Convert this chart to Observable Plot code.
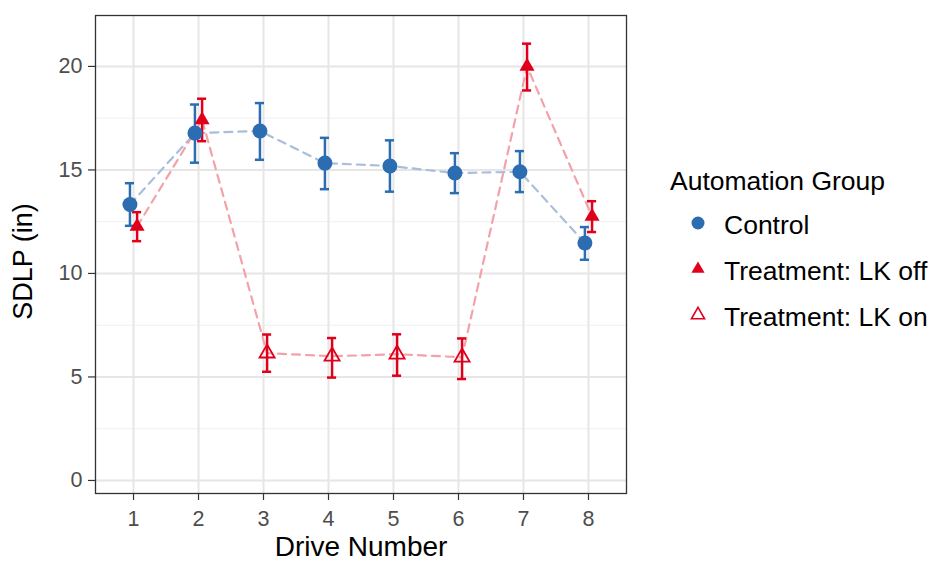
<!DOCTYPE html>
<html>
<head>
<meta charset="utf-8">
<script src="https://cdn.jsdelivr.net/npm/d3@7"></script>
<script src="https://cdn.jsdelivr.net/npm/@observablehq/plot@0.6"></script>
<style>
  body { margin: 0; background: #fff; }
  #wrap { position: relative; width: 931px; height: 563px; font-family: "Liberation Sans", Arial, sans-serif; }
  #wrap svg text { font-family: "Liberation Sans", Arial, sans-serif; }
  g[aria-label="x-axis tick label"] text, g[aria-label="y-axis tick label"] text { fill: #4d4d4d; }
  g[aria-label="x-axis tick"] path, g[aria-label="y-axis tick"] path { stroke: #333; stroke-width: 1.2px; }
  .leg { position: absolute; font-size: 26px; color: #000; line-height: 1; white-space: nowrap; transform: translateY(-50%); }
  .key { position: absolute; transform: translate(-50%, -50%); }
</style>
</head>
<body>
<div id="wrap"></div>
<script>
// ---- data ----
const drives = [1, 2, 3, 4, 5, 6, 7, 8];
const groups = ["Control", "Treatment: LK off", "Treatment: LK on"];
const controlMean = [13.33, 16.78, 16.88, 15.33, 15.19, 14.85, 14.91, 11.47];
const controlLow  = [12.30, 15.35, 15.49, 14.07, 13.95, 13.88, 13.93, 10.66];
const controlHigh = [14.36, 18.16, 18.23, 16.55, 16.43, 15.81, 15.91, 12.24];
const treatGroup = ["Treatment: LK off", "Treatment: LK off", "Treatment: LK on", "Treatment: LK on",
                    "Treatment: LK on", "Treatment: LK on", "Treatment: LK off", "Treatment: LK off"];
const treatMean = [12.27, 17.42, 6.15, 6.00, 6.10, 5.95, 20.00, 12.75];
const treatLow  = [11.56, 16.39, 5.25, 4.97, 5.06, 4.90, 18.84, 12.00];
const treatHigh = [12.96, 18.44, 7.05, 6.88, 7.06, 6.86, 21.10, 13.49];
const yTicks = [0, 5, 10, 15, 20];
const yMinor = [2.5, 7.5, 12.5, 17.5];

// ---- styling ----
const blue = "#2C6DB2", red = "#E0001B";
const dodge = 0.055, cap = 0.07;

const control = drives.map((d, i) => ({drive: d, x: d - dodge, mean: controlMean[i], lo: controlLow[i], hi: controlHigh[i], group: groups[0], color: blue}));
const treat = drives.map((d, i) => ({drive: d, x: d + dodge, mean: treatMean[i], lo: treatLow[i], hi: treatHigh[i], group: treatGroup[i], color: red}));
const all = control.concat(treat);

const chart = Plot.plot({
  width: 931, height: 563,
  marginLeft: 95, marginRight: 305, marginTop: 15, marginBottom: 70,
  style: {fontFamily: "Liberation Sans, Arial, sans-serif", fontSize: "21px", color: "#4d4d4d", background: "#fff"},
  x: {domain: [0.415, 8.585]},
  y: {domain: [-0.63, 22.46]},
  marks: [
    Plot.gridY(yMinor, {stroke: "#F0F0F0", strokeOpacity: 1, strokeWidth: 1}),
    Plot.gridY(yTicks, {stroke: "#E6E6E6", strokeOpacity: 1, strokeWidth: 2}),
    Plot.gridX(drives, {stroke: "#E6E6E6", strokeOpacity: 1, strokeWidth: 2}),
    Plot.line(control, {x: "x", y: "mean", stroke: "#A9BED8", strokeWidth: 2.2, strokeDasharray: "8,6"}),
    Plot.line(treat, {x: "x", y: "mean", stroke: "#F2A2A8", strokeWidth: 2.2, strokeDasharray: "8,6"}),
    Plot.ruleX(all, {x: "x", y1: "lo", y2: "hi", stroke: "color", strokeWidth: 2.5}),
    Plot.ruleY(all, {y: "hi", x1: d => d.x - cap, x2: d => d.x + cap, stroke: "color", strokeWidth: 2.5}),
    Plot.ruleY(all, {y: "lo", x1: d => d.x - cap, x2: d => d.x + cap, stroke: "color", strokeWidth: 2.5}),
    Plot.dot(control, {x: "x", y: "mean", r: 7.5, fill: blue, symbol: "circle"}),
    Plot.dot(treat.filter(d => d.group === groups[1]), {x: "x", y: "mean", r: 5.6, fill: red, symbol: "triangle"}),
    Plot.dot(treat.filter(d => d.group === groups[2]), {x: "x", y: "mean", r: 5.6, fill: "none", stroke: red, strokeWidth: 1.8, symbol: "triangle"}),
    Plot.frame({stroke: "#333", strokeWidth: 1.3}),
    Plot.axisX(drives, {tickSize: 7, tickPadding: 10, fontSize: 21.5, label: null}),
    Plot.axisY(yTicks, {tickSize: 7, tickPadding: 6, fontSize: 21.5, label: null}),
    Plot.text(["Drive Number"], {frameAnchor: "bottom", lineAnchor: "middle", textAnchor: "middle", dy: 54, fontSize: 28, fill: "#000", text: d => d}),
    Plot.text(["SDLP (in)"], {frameAnchor: "left", lineAnchor: "middle", textAnchor: "middle", dx: -72, dy: 7, rotate: -90, fontSize: 27, fill: "#000", text: d => d})
  ]
});

const wrap = document.getElementById("wrap");
wrap.appendChild(chart);

// ---- legend (HTML, beside the plot) ----
function addText(txt, left, cy, size) {
  const el = document.createElement("div");
  el.className = "leg";
  el.style.left = left + "px";
  el.style.top = cy + "px";
  if (size) el.style.fontSize = size + "px";
  el.textContent = txt;
  wrap.appendChild(el);
}
function addKey(svgInner, cx, cy) {
  const el = document.createElement("div");
  el.className = "key";
  el.style.left = cx + "px";
  el.style.top = cy + "px";
  el.innerHTML = `<svg width="20" height="20" viewBox="-10 -10 20 20">${svgInner}</svg>`;
  wrap.appendChild(el);
}
addText("Automation Group", 670, 181, 26.5);
const legendY = [225, 271, 317];
const keys = [
  `<circle r="6.5" fill="${blue}"/>`,
  `<path d="${d3.symbol(d3.symbolTriangle, 75)()}" fill="${red}"/>`,
  `<path d="${d3.symbol(d3.symbolTriangle, 75)()}" fill="none" stroke="${red}" stroke-width="1.6"/>`
];
groups.forEach((g, i) => {
  addKey(keys[i], 698, legendY[i]);
  addText(g, 724, legendY[i], 26.5);
});
</script>
</body>
</html>
